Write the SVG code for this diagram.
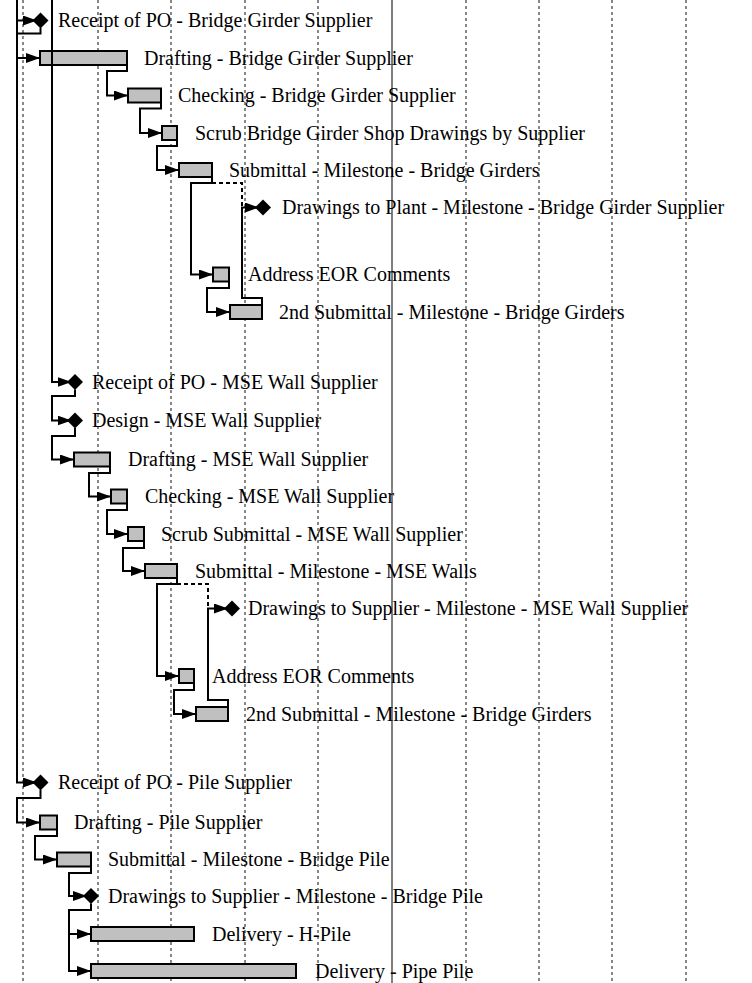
<svg xmlns="http://www.w3.org/2000/svg" width="752" height="983" viewBox="0 0 752 983">
<style>
.grid{stroke:#111;stroke-width:1;stroke-dasharray:3,3;fill:none}
.bar{fill:#c0c0c0;stroke:#000;stroke-width:2}
.ms{fill:#000;stroke:none}
.lnk{fill:none;stroke:#000;stroke-width:2}
.dash{fill:none;stroke:#000;stroke-width:2;stroke-dasharray:4,3}
text{font-family:"Liberation Serif","Times New Roman",serif;font-size:20px;fill:#000}
</style>
<defs>
<marker id="arr" markerUnits="userSpaceOnUse" markerWidth="15" markerHeight="11" refX="14" refY="5" orient="auto"><path d="M0,0 L14,5 L0,10 z" fill="#000"/></marker>
</defs>
<rect width="752" height="983" fill="#fff"/>
<g id="grid">
<line class="grid" x1="23" y1="0" x2="23" y2="983"/>
<line class="grid" x1="98" y1="0" x2="98" y2="983"/>
<line class="grid" x1="171" y1="0" x2="171" y2="983"/>
<line class="grid" x1="245" y1="0" x2="245" y2="983"/>
<line class="grid" x1="318" y1="0" x2="318" y2="983"/>
<line class="grid" x1="466" y1="0" x2="466" y2="983"/>
<line class="grid" x1="539" y1="0" x2="539" y2="983"/>
<line class="grid" x1="612" y1="0" x2="612" y2="983"/>
<line class="grid" x1="686" y1="0" x2="686" y2="983"/>
</g>
<g id="today"><line x1="392" y1="0" x2="392" y2="983" stroke="#555" stroke-width="1.5"/></g>

<g id="n1"><polygon class="ms" points="32.5,20.5 40.5,12.5 48.5,20.5 40.5,28.5"/><text x="58" y="27">Receipt of PO - Bridge Girder Supplier</text></g>
<g id="n2"><rect class="bar" x="40" y="51" width="87" height="14"/><text x="144" y="64.5">Drafting - Bridge Girder Supplier</text></g>
<g id="n3"><rect class="bar" x="128" y="88.5" width="33" height="14"/><text x="178" y="102">Checking - Bridge Girder Supplier</text></g>
<g id="n4"><rect class="bar" x="162" y="126" width="15" height="14"/><text x="195" y="139.5">Scrub Bridge Girder Shop Drawings by Supplier</text></g>
<g id="n5"><rect class="bar" x="179" y="163" width="33" height="14"/><text x="229" y="176.5">Submittal - Milestone - Bridge Girders</text></g>
<g id="n6"><polygon class="ms" points="255,207.5 263,199.5 271,207.5 263,215.5"/><text x="282" y="214">Drawings to Plant - Milestone - Bridge Girder Supplier</text></g>
<g id="n7"><rect class="bar" x="213" y="267.5" width="16" height="14"/><text x="248" y="281">Address EOR Comments</text></g>
<g id="n8"><rect class="bar" x="230" y="305" width="32" height="14"/><text x="279" y="318.5">2nd Submittal - Milestone - Bridge Girders</text></g>

<g id="n9"><polygon class="ms" points="67,382 75,374 83,382 75,390"/><text x="92" y="388.5">Receipt of PO - MSE Wall Supplier</text></g>
<g id="n10"><polygon class="ms" points="67,420.5 75,412.5 83,420.5 75,428.5"/><text x="92" y="427">Design - MSE Wall Supplier</text></g>
<g id="n11"><rect class="bar" x="74" y="452.5" width="36" height="14"/><text x="128" y="466">Drafting - MSE Wall Supplier</text></g>
<g id="n12"><rect class="bar" x="111" y="489.5" width="16" height="14"/><text x="145" y="503">Checking - MSE Wall Supplier</text></g>
<g id="n13"><rect class="bar" x="128" y="527" width="16" height="14"/><text x="161" y="540.5">Scrub Submittal - MSE Wall Supplier</text></g>
<g id="n14"><rect class="bar" x="145" y="564" width="32" height="14"/><text x="195" y="577.5">Submittal - Milestone - MSE Walls</text></g>
<g id="n15"><polygon class="ms" points="224,608.5 232,600.5 240,608.5 232,616.5"/><text x="248" y="615">Drawings to Supplier - Milestone - MSE Wall Supplier</text></g>
<g id="n16"><rect class="bar" x="179" y="669" width="15" height="14"/><text x="212" y="682.5">Address EOR Comments</text></g>
<g id="n17"><rect class="bar" x="196" y="707" width="32" height="14"/><text x="246" y="720.5">2nd Submittal - Milestone - Bridge Girders</text></g>

<g id="n18"><polygon class="ms" points="32.5,782.5 40.5,774.5 48.5,782.5 40.5,790.5"/><text x="58" y="789">Receipt of PO - Pile Supplier</text></g>
<g id="n19"><rect class="bar" x="40" y="815.5" width="17" height="14"/><text x="74" y="829">Drafting - Pile Supplier</text></g>
<g id="n20"><rect class="bar" x="57" y="852.5" width="34" height="14"/><text x="108" y="866">Submittal - Milestone - Bridge Pile</text></g>
<g id="n21"><polygon class="ms" points="83,896 91,888 99,896 91,904"/><text x="108" y="902.5">Drawings to Supplier - Milestone - Bridge Pile</text></g>
<g id="n22"><rect class="bar" x="91" y="927" width="103" height="14"/><text x="212" y="940.5">Delivery - H-Pile</text></g>
<g id="n23"><rect class="bar" x="91" y="964" width="205" height="14"/><text x="315" y="977.5">Delivery - Pipe Pile</text></g>

<g id="connectors">
<path class="lnk" d="M17,0 V782.5 H37" marker-end="url(#arr)"/>
<path class="lnk" d="M17,20.5 H37" marker-end="url(#arr)"/>
<path class="lnk" d="M52,0 V382 H71.5" marker-end="url(#arr)"/>
<path class="lnk" d="M40.5,28 V33.5 H17 V58 H40" marker-end="url(#arr)"/>
<path class="lnk" d="M127,65 V71 H107 V95.5 H128" marker-end="url(#arr)"/>
<path class="lnk" d="M161,102.5 V108.5 H140 V133 H162" marker-end="url(#arr)"/>
<path class="lnk" d="M177,140 V146 H157 V170 H179" marker-end="url(#arr)"/>
<path class="lnk" d="M212,177 V183 H191 V274.5 H213" marker-end="url(#arr)"/>
<path class="dash" d="M212,183 H242 V207.5"/>
<path class="lnk" d="M262,305 V298 H242 V207.5 H259" marker-end="url(#arr)"/>
<path class="lnk" d="M229,281.5 V288 H207 V312 H230" marker-end="url(#arr)"/>
<path class="lnk" d="M75,389.5 V396 H52 V420.5 H71.5" marker-end="url(#arr)"/>
<path class="lnk" d="M75,428 V436 H52 V459.5 H74" marker-end="url(#arr)"/>
<path class="lnk" d="M110,466.5 V473 H89 V496.5 H111" marker-end="url(#arr)"/>
<path class="lnk" d="M127,503.5 V510 H107 V534 H128" marker-end="url(#arr)"/>
<path class="lnk" d="M144,541 V548 H123 V571 H145" marker-end="url(#arr)"/>
<path class="lnk" d="M177,578 V584 H157 V676 H179" marker-end="url(#arr)"/>
<path class="dash" d="M177,584 H208 V608.5"/>
<path class="lnk" d="M228,707 V700 H208 V608.5 H228" marker-end="url(#arr)"/>
<path class="lnk" d="M194,683 V690 H174 V714 H196" marker-end="url(#arr)"/>
<path class="lnk" d="M40.5,790 V798 H17 V822.5 H40" marker-end="url(#arr)"/>
<path class="lnk" d="M57,829.5 V836 H35 V859.5 H57" marker-end="url(#arr)"/>
<path class="lnk" d="M91,866.5 V873 H69 V896 H87" marker-end="url(#arr)"/>
<path class="lnk" d="M91,903.5 V910 H69 V934 H91" marker-end="url(#arr)"/>
<path class="lnk" d="M69,934 V971 H91" marker-end="url(#arr)"/>
</g>
</svg>
